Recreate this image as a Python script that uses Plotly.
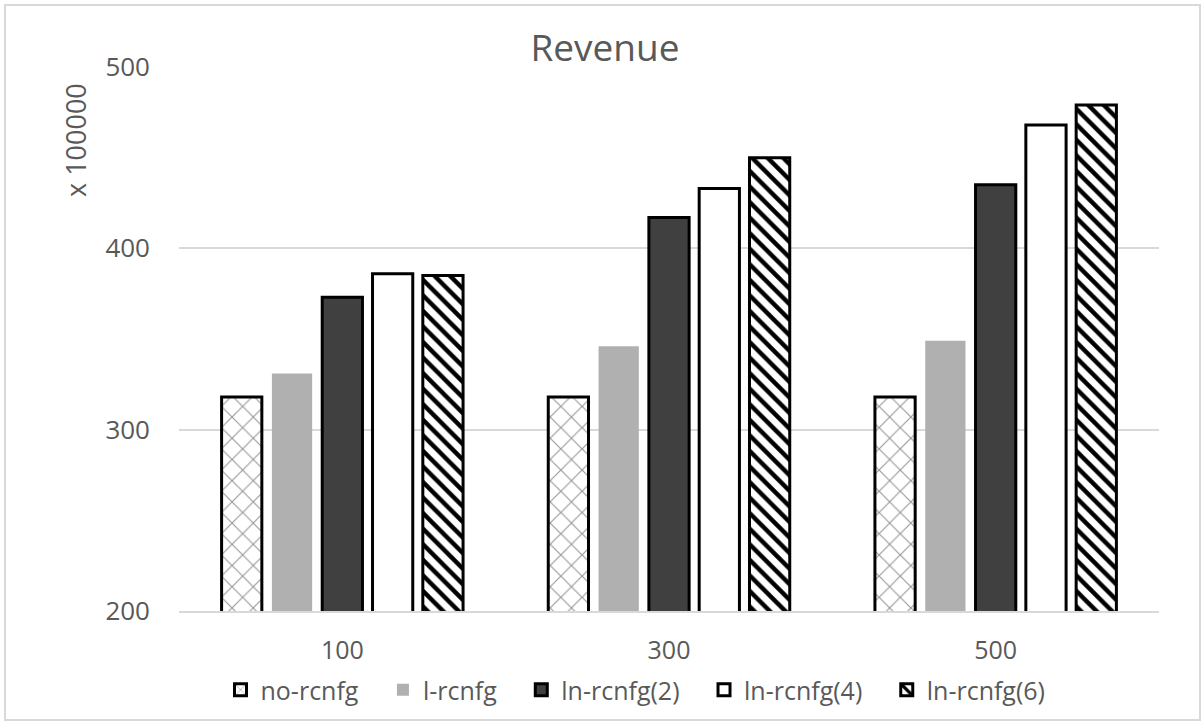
import plotly.graph_objects as go

categories = ["100", "300", "500"]
series_names = ["no-rcnfg", "l-rcnfg", "ln-rcnfg(2)", "ln-rcnfg(4)", "ln-rcnfg(6)"]
no_rcnfg = [318, 318, 318]
l_rcnfg = [331, 346, 349]
ln_rcnfg2 = [373, 417, 435]
ln_rcnfg4 = [386, 433, 468]
ln_rcnfg6 = [385, 450, 479]
y_ticks = [200, 300, 400, 500]

values = [no_rcnfg, l_rcnfg, ln_rcnfg2, ln_rcnfg4, ln_rcnfg6]
styles = [
    dict(color="white", line=dict(color="black", width=3),
         pattern=dict(shape="x", fgcolor="#333333", bgcolor="white", size=15, solidity=0.15)),
    dict(color="#b0b0b0", line=dict(color="#b0b0b0", width=0)),
    dict(color="#404040", line=dict(color="black", width=3)),
    dict(color="white", line=dict(color="black", width=3)),
    dict(color="white", line=dict(color="black", width=3),
         pattern=dict(shape="\\", fgcolor="black", fgopacity=1, bgcolor="white",
                      size=11, solidity=0.4)),
]

FONT = "Open Sans, Noto Sans, sans-serif"
GRAY = "#595959"

L, R, T, B = 179, 43, 67, 114
W, H = 1202, 725
PW, PH = W - L - R, H - T - B

fig = go.Figure()
for name, vals, st in zip(series_names, values, styles):
    fig.add_trace(go.Bar(name=name + "\u00a0\u00a0\u00a0", x=categories, y=vals, marker=st))

fig.update_layout(
    width=W, height=H,
    margin=dict(l=L, r=R, t=T, b=B),
    paper_bgcolor="white", plot_bgcolor="white",
    barmode="group", bargap=0.23, bargroupgap=0.2,
    font=dict(family=FONT, color=GRAY, size=26),
    title=dict(text="Revenue", x=(605 - L) / PW, xref="paper", xanchor="center",
               y=1 - 48 / H, yanchor="middle",
               font=dict(size=37, color=GRAY, family=FONT)),
    legend=dict(orientation="h", x=(645 - L) / PW, xanchor="center",
                y=-(690 - (T + PH)) / PH, yanchor="middle",
                font=dict(size=25, color=GRAY), itemwidth=30, tracegroupgap=0,
                bgcolor="rgba(0,0,0,0)"),
    showlegend=True,
)
fig.update_yaxes(range=[200, 500], tickvals=y_ticks, showgrid=True, gridcolor="#d9d9d9",
                 gridwidth=2, zeroline=False, showline=False, ticks="", ticklabelstandoff=28,
                 tickfont=dict(size=26, color=GRAY))
fig.update_xaxes(showline=True, linecolor="#d9d9d9", linewidth=2, ticks="", showgrid=False,
                 ticklabelstandoff=16, tickfont=dict(size=25, color=GRAY))

fig.add_annotation(text="x 100000", xref="paper", yref="paper",
                   x=(75 - L) / PW, y=((T + PH) - 140) / PH, xanchor="center", yanchor="middle",
                   textangle=-90, showarrow=False, font=dict(size=27, color=GRAY))

fig.add_shape(type="rect", xref="paper", yref="paper",
              x0=(5 - L) / PW, x1=(1200 - L) / PW,
              y0=((T + PH) - 720) / PH, y1=((T + PH) - 5) / PH,
              line=dict(color="#d9d9d9", width=2), fillcolor="rgba(0,0,0,0)", layer="below")

fig.write_html("out.html")
